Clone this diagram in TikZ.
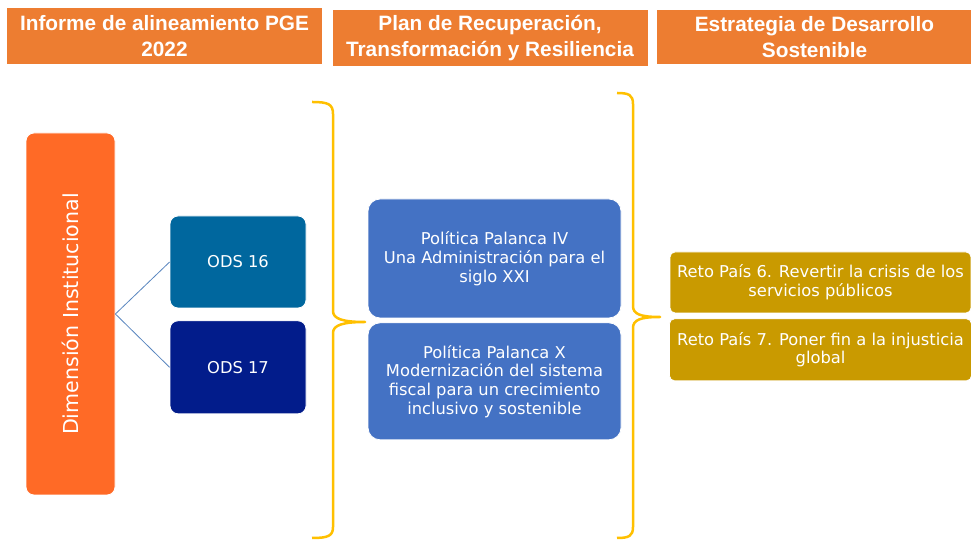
\documentclass[tikz,border=0pt]{standalone}
\usepackage{fontspec}
\setmainfont{DejaVu Sans}
\newfontfamily\hdrfont{Liberation Sans}
\usetikzlibrary{positioning}
\definecolor{hdrorange}{HTML}{ED7D31}
\definecolor{dimorange}{HTML}{FF6A26}
\definecolor{odsteal}{HTML}{00679E}
\definecolor{odsnavy}{HTML}{021C8B}
\definecolor{palblue}{HTML}{4472C4}
\definecolor{retogold}{HTML}{C99A00}
\definecolor{bracegold}{HTML}{FFC000}
\definecolor{linkblue}{HTML}{5A86BF}

\begin{document}
\begin{tikzpicture}[x=1pt, y=1pt,
  hdr/.style={fill=hdrorange, text=white, minimum width=315pt, minimum height=56pt,
              inner sep=0pt, align=center, font=\hdrfont\bfseries\fontsize{20.8}{25.5}\selectfont},
  box/.style={draw=white, line width=0.8pt, rounded corners=8pt, text=white,
              align=center, inner sep=0pt, font=\fontsize{16.3}{18.7}\selectfont},
  link/.style={draw=linkblue, line width=0.8pt},
  brace/.style={draw=bracegold, line width=2.5pt, line join=round},
]
  \useasboundingbox (0,0) rectangle (971,540);
  \fill[white] (0,0) rectangle (971,540);

  % column headers
  \node[hdr] (h1) at (164.5,504) {Informe de alineamiento PGE\\2022};
  \node[hdr] (h2) at (490,502) {Plan de Recuperación,\\Transformación y Resiliencia};
  \node[hdr, minimum height=54pt] (h3) at (814.5,503) {Estrategia de Desarrollo\\Sostenible};

  % left column
  \node[box, fill=dimorange, rotate=90, minimum width=362pt, minimum height=89pt,
        font=\fontsize{20.6}{24}\selectfont] (dim) at (70.5,226) {Dimensión Institucional};
  \node[box, fill=odsteal, minimum width=136pt, minimum height=92pt] (ods16) at (238,278) {ODS 16};
  \node[box, fill=odsnavy, minimum width=136pt, minimum height=93pt, below=12pt of ods16] (ods17) {ODS 17};

  \draw[link] (dim.south) -- (ods16.west);
  \draw[link] (dim.south) -- (ods17.west);

  % middle column
  \node[box, fill=palblue, rounded corners=12pt, minimum width=253pt, minimum height=119pt]
    (pal4) at (494.5,281.5) {Política Palanca IV\\Una Administración para el\\siglo XXI};
  \node[box, fill=palblue, rounded corners=12pt, minimum width=253pt, minimum height=117pt, below=4pt of pal4]
    (pal10) {Política Palanca X\\Modernización del sistema\\fiscal para un crecimiento\\inclusivo y sostenible};

  % right column
  \node[box, fill=retogold, rounded corners=5pt, minimum width=301pt, minimum height=61pt]
    (reto6) at (820.5,257.5) {Reto País 6. Revertir la crisis de los\\servicios públicos};
  \node[box, fill=retogold, rounded corners=5pt, minimum width=302pt, minimum height=62pt, below=5pt of reto6]
    (reto7) {Reto País 7. Poner fin a la injusticia\\global};

  % braces
  \draw[brace] (312,438) .. controls (328,438) and (333,436) .. (333,426) -- (333,229)
    .. controls (333,221) and (343,218) .. (365,218)
    .. controls (343,218) and (333,215) .. (333,207) -- (333,13)
    .. controls (333,4) and (328,2) .. (312,2);
  \draw[brace] (617,447) .. controls (629,447) and (633,445) .. (633,436) -- (633,234)
    .. controls (633,226) and (640,223) .. (660,223)
    .. controls (640,223) and (633,220) .. (633,212) -- (633,13)
    .. controls (633,4) and (629,2) .. (617,2);
\end{tikzpicture}
\end{document}
